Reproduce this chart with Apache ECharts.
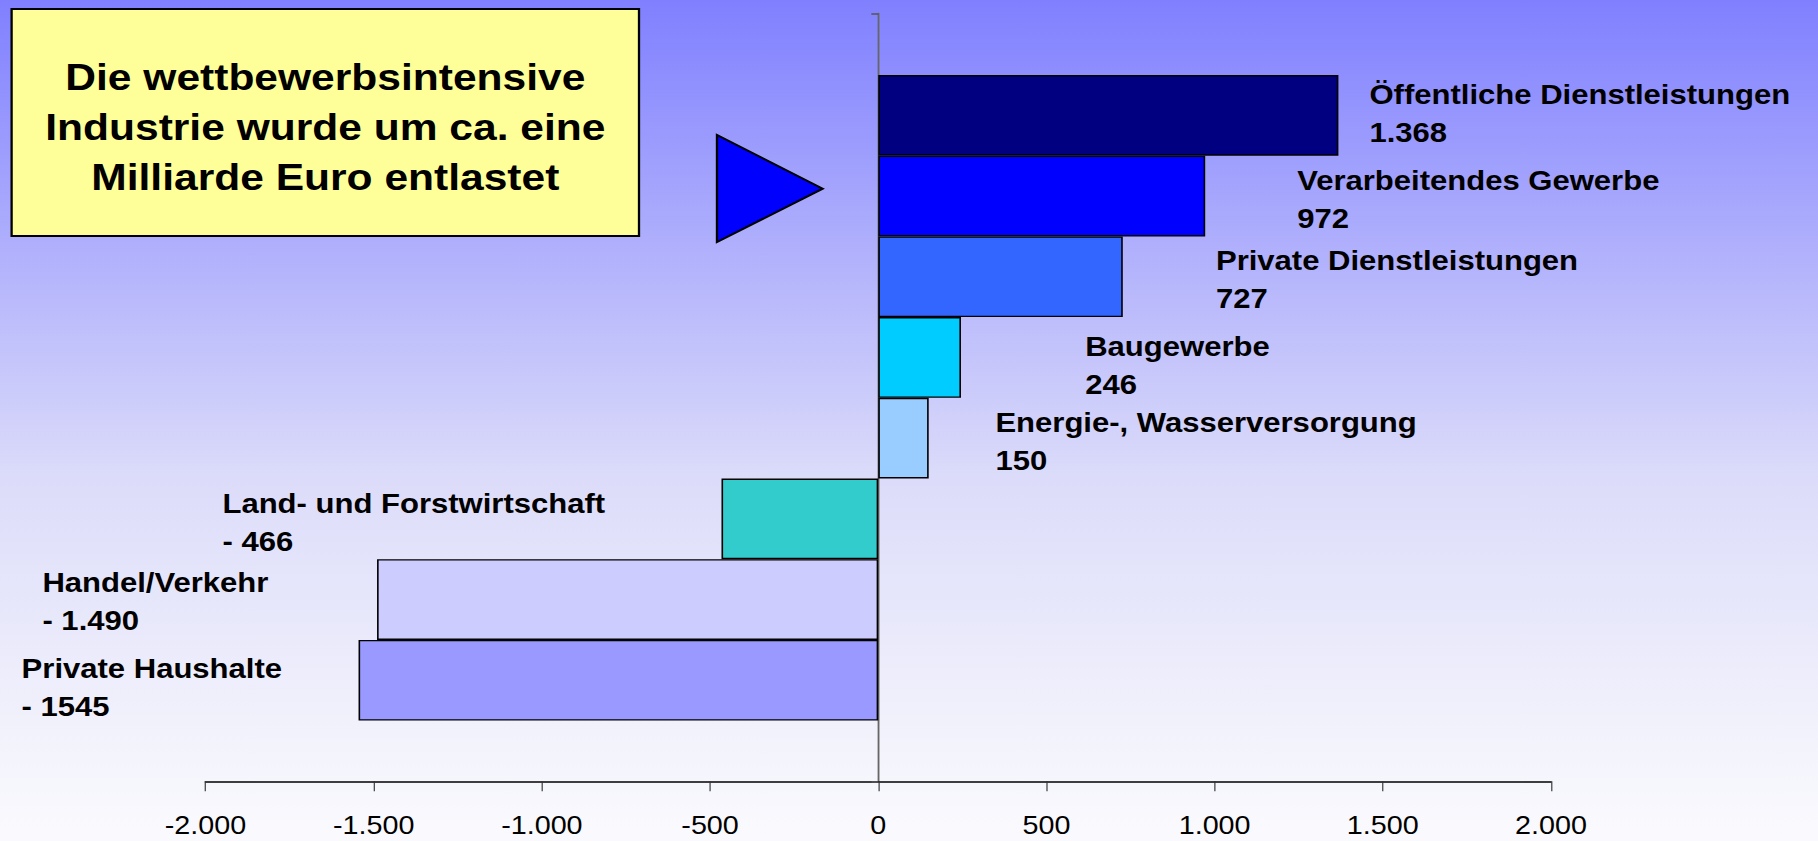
<!DOCTYPE html>
<html>
<head>
<meta charset="utf-8">
<script src="https://cdn.jsdelivr.net/npm/echarts@6/dist/echarts.min.js"></script>
<style>
  html, body { margin: 0; padding: 0; overflow: hidden; }
  #wrap { width: 1818px; height: 841px; overflow: hidden; }
  /* the original slide is stretched horizontally, so draw narrower and stretch */
  #chart { width: 1581px; height: 841px; transform: scaleX(1.14991); transform-origin: 0 0; }
</style>
</head>
<body>
<div id="wrap"><div id="chart"></div></div>
<script>
const sectors = [
  "Öffentliche Dienstleistungen",
  "Verarbeitendes Gewerbe",
  "Private Dienstleistungen",
  "Baugewerbe",
  "Energie-, Wasserversorgung",
  "Land- und Forstwirtschaft",
  "Handel/Verkehr",
  "Private Haushalte"
];
const values = [1368, 972, 727, 246, 150, -466, -1490, -1545];
const valueTexts = ["1.368", "972", "727", "246", "150", "- 466", "- 1.490", "- 1545"];

const barColors = ["#000080", "#0000FF", "#3366FF", "#00CCFF", "#99CCFF", "#33CCCC", "#CCCCFF", "#9999FF"];
// hand placed label shifts, as in the slide
const labelShift = [[27, -1.5], [80, 3.5], [81, 2.7], [108, 8.5], [58, 3.6], [-434, 3.7], [-291, 2], [-293, 7.5]];

const fmt = (v) => {
  const a = Math.abs(v).toString().replace(/\B(?=(\d{3})+(?!\d))/g, ".");
  return (v < 0 ? "-" : "") + a;
};

const chart = echarts.init(document.getElementById("chart"), null, { renderer: "svg" });

const barData = values.map((v, i) => ({
  value: v,
  itemStyle: { color: barColors[i] },
  label: {
    position: v >= 0 ? "right" : "left",
    offset: labelShift[i]
  }
}));

chart.setOption({
  backgroundColor: {
    type: "linear", x: 0, y: 0, x2: 0, y2: 1,
    colorStops: [
      { offset: 0, color: "#8080FF" },
      { offset: 0.57, color: "#DCDCFA" },
      { offset: 0.87, color: "#F2F2FC" },
      { offset: 1, color: "#FAFAFE" }
    ]
  },
  animation: false,
  grid: [
    { left: 178.7, right: 232.2, top: 75, bottom: 120.4 },
    { left: 178.7, right: 232.2, top: 13.5, bottom: 59.7 }
  ],
  xAxis: [
    { gridIndex: 0, type: "value", min: -2000, max: 2000, show: false },
    {
      gridIndex: 1, type: "value", min: -2000, max: 2000, interval: 500,
      axisLine: { show: true, lineStyle: { color: "#000", width: 1.5 } },
      axisTick: { show: true, length: 10, lineStyle: { color: "#333", width: 1 } },
      splitLine: { show: false },
      axisLabel: {
        formatter: fmt, margin: 32, color: "#000",
        fontFamily: "Liberation Sans", fontSize: 25, lineHeight: 25,
        showMinLabel: true, showMaxLabel: true
      }
    }
  ],
  yAxis: [
    { gridIndex: 0, type: "category", data: sectors, inverse: true, show: false },
    {
      gridIndex: 1, type: "value", min: 0, max: 1, interval: 1,
      axisLine: { show: true, lineStyle: { color: "#666", width: 1.6 } },
      axisTick: { show: true, length: 6, lineStyle: { color: "#555", width: 1.5 } },
      axisLabel: { show: false },
      splitLine: { show: false }
    }
  ],
  series: [
    {
      type: "bar",
      xAxisIndex: 0,
      yAxisIndex: 0,
      data: barData,
      barCategoryGap: "0%",
      itemStyle: { borderColor: "#000", borderWidth: 1.4 },
      label: {
        show: true,
        distance: 0,
        align: "left",
        formatter: (p) => "{n|" + p.name + "}\n{n|" + valueTexts[p.dataIndex] + "}",
        rich: {
          n: {
            fontFamily: "Liberation Sans", fontWeight: "bold", fontSize: 27,
            lineHeight: 38, color: "#000", align: "left"
          }
        }
      }
    }
  ],
  graphic: [
    {
      type: "rect",
      shape: { x: 10.1, y: 9, width: 545.6, height: 227 },
      style: { fill: "#FFFF99", stroke: "#000", lineWidth: 2 }
    },
    {
      type: "text",
      x: 282.9, y: 126.7,
      style: {
        text: "Die wettbewerbsintensive\nIndustrie wurde um ca. eine\nMilliarde Euro entlastet",
        fontFamily: "Liberation Sans", fontWeight: "bold", fontSize: 37,
        lineHeight: 50, fill: "#000", align: "center", verticalAlign: "middle"
      }
    },
    {
      type: "polygon",
      shape: { points: [[623.5, 135], [623.5, 242], [715.4, 188.7]] },
      style: { fill: "#0000FF", stroke: "#000", lineWidth: 2 }
    }
  ]
});
</script>
</body>
</html>
